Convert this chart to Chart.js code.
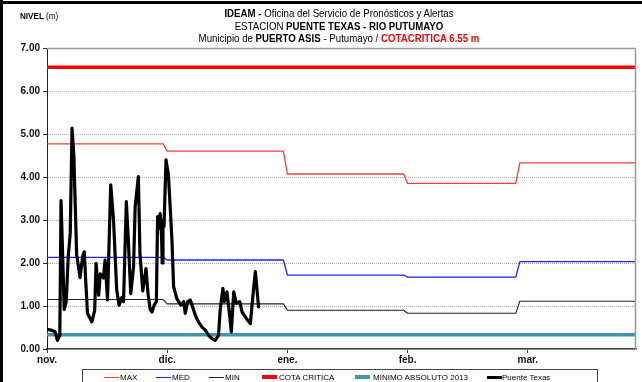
<!DOCTYPE html>
<html>
<head>
<meta charset="utf-8">
<script src="https://cdn.jsdelivr.net/npm/chart.js@4/dist/chart.umd.min.js"></script>
<style>
  html, body { margin: 0; padding: 0; background: #fff; }
  #wrap { position: relative; width: 642px; height: 382px; overflow: hidden; background: #fff; font-family: "Liberation Sans", Arial, sans-serif; }
  #c { position: absolute; left: 0; top: 0; }
  .bl { position: absolute; left: 0; top: 0; width: 3px; height: 382px; background: #000; }
  .bt { position: absolute; left: 0; top: 1px; width: 642px; height: 3px; background: #000; }
  #title { position: absolute; left: 139px; width: 400px; top: 7px; text-align: center; font-family: "Liberation Sans", Arial, sans-serif; font-size: 11px; line-height: 12.5px; color: #000; transform: scaleX(0.88); transform-origin: 200px 0; }
  #title b { font-weight: bold; }
  #title .red { color: #ff0000; font-weight: bold; }
  #ylab { position: absolute; left: 20px; top: 11px; font-family: "Liberation Sans", Arial, sans-serif; font-size: 9px; color: #000; transform: scaleX(0.9); transform-origin: 0 0; }
  #legend { position: absolute; left: 82px; top: 369px; width: 516px; height: 30px; border: 1px solid #444; box-sizing: border-box; }
  .li { position: absolute; top: 3px; font-size: 8px; line-height: 9px; color: #000; white-space: nowrap; }
  .sw { position: absolute; top: 7px; width: 15px; }
</style>
</head>
<body>
<div id="wrap">
  <canvas id="c" width="642" height="382"></canvas>
  <div class="bl"></div>
  <div class="bt"></div>
  <div id="ylab"><b>NIVEL</b> (m)</div>
  <div id="title">
    <div><b>IDEAM -</b> Oficina del Servicio de Pronósticos y Alertas</div>
    <div>ESTACION <b>PUENTE TEXAS - RIO PUTUMAYO</b></div>
    <div>Municipio de <b>PUERTO ASIS</b> - Putumayo / <span class="red">COTACRITICA 6.55 m</span></div>
  </div>
  <div id="legend"></div>
</div>
<script>
// ---- data ----
const monthTicks = [0, 30, 60, 90, 120];
const monthLabels = ["nov.", "dic.", "ene.", "feb.", "mar."];
const yTicks = [0, 1, 2, 3, 4, 5, 6, 7];

const stepDays  = [0, 29, 30, 59, 60, 89, 90, 117, 118, 147];
const maxLevels = [4.77, 4.77, 4.60, 4.60, 4.07, 4.07, 3.85, 3.85, 4.33, 4.33];
const medLevels = [2.13, 2.13, 2.07, 2.07, 1.72, 1.72, 1.67, 1.67, 2.03, 2.03];
const minLevels = [1.15, 1.15, 1.05, 1.05, 0.90, 0.90, 0.83, 0.83, 1.11, 1.11];

const refDays = [0, 147];
const cotaCritica = [6.55, 6.55];
const minimoAbsoluto2013 = [0.33, 0.33];

const puenteDays = [0.0,1.0,2.0,2.6,3.2,3.5,3.9,4.3,4.8,5.3,5.8,6.25,6.7,7.0,7.4,8.25,8.9,9.3,9.6,10.1,11.2,11.9,12.25,12.9,13.3,14.1,14.5,15.1,15.9,16.6,17.4,18.0,18.7,19.1,19.8,20.3,20.9,21.6,22.0,22.8,23.2,23.9,24.7,25.2,25.75,26.2,26.75,27.3,27.6,27.9,28.25,28.6,28.75,28.95,29.2,29.7,30.3,30.8,31.2,31.6,32.4,33.4,34.1,34.5,35.1,35.75,36.2,37.0,37.8,38.7,39.5,40.3,41.2,42.0,42.8,43.25,43.9,44.3,44.9,45.5,46.0,46.6,47.25,48.1,48.7,49.75,50.75,51.4,52.0,52.8];
const puenteLevels = [0.46,0.44,0.40,0.20,0.32,3.45,2.20,0.92,1.10,2.15,2.70,5.14,4.50,3.50,2.20,1.66,2.15,2.26,1.70,0.83,0.63,0.90,1.99,1.25,1.75,1.65,2.07,1.14,3.82,3.00,1.37,1.02,1.20,1.10,3.43,2.53,1.29,1.90,3.31,4.01,2.22,1.35,1.87,1.30,0.92,0.86,1.02,1.10,3.08,2.80,3.15,2.60,2.00,3.00,2.85,4.40,4.05,3.20,2.50,1.45,1.17,1.02,1.10,0.83,1.10,1.14,1.02,0.79,0.63,0.51,0.44,0.32,0.24,0.20,0.32,0.94,1.41,1.10,1.33,0.86,0.40,1.33,1.06,1.10,0.86,0.71,0.59,1.25,1.80,0.98];

// ---- build ----
const pts = (xs, ys) => xs.map((x, i) => ({ x: x, y: ys[i] }));

const series = [
  { label: "MAX", data: pts(stepDays, maxLevels), color: "#ff3b3b", width: 1.3, order: 5 },
  { label: "MED", data: pts(stepDays, medLevels), color: "#2020ff", width: 1.3, order: 4 },
  { label: "MIN", data: pts(stepDays, minLevels), color: "#222222", width: 1.1, order: 3 },
  { label: "COTA CRITICA", data: pts(refDays, cotaCritica), color: "#ff0000", width: 3.5, order: 2 },
  { label: "MINIMO ABSOLUTO 2013", data: pts(refDays, minimoAbsoluto2013), color: "#4393ad", width: 3.5, order: 1 },
  { label: "Puente Texas", data: pts(puenteDays, puenteLevels), color: "#000000", width: 3.2, order: 0 }
];

const framePlugin = {
  id: "frame",
  afterDatasetsDraw(chart) {
    const a = chart.chartArea, ctx = chart.ctx;
    ctx.save();
    ctx.strokeStyle = "#9a9a9a";
    ctx.lineWidth = 1.5;
    ctx.beginPath();
    ctx.moveTo(a.left, a.top + 0.5);
    ctx.lineTo(a.right - 0.5, a.top + 0.5);
    ctx.lineTo(a.right - 0.5, a.bottom);
    ctx.stroke();
    ctx.restore();
  }
};

new Chart(document.getElementById("c"), {
  type: "line",
  data: {
    datasets: series.map(s => ({
      label: s.label,
      data: s.data,
      borderColor: s.color,
      backgroundColor: s.color,
      borderWidth: s.width,
      pointRadius: 0,
      tension: 0,
      fill: false,
      order: s.order,
      borderJoinStyle: "round",
      borderCapStyle: "round"
    }))
  },
  options: {
    responsive: false,
    animation: false,
    layout: { padding: { left: 0, right: 6, top: 48, bottom: 0 } },
    plugins: { legend: { display: false }, tooltip: { enabled: false }, title: { display: false } },
    scales: {
      x: {
        type: "linear",
        min: 0,
        max: 147,
        afterBuildTicks: s => { s.ticks = monthTicks.map(v => ({ value: v })); },
        afterFit: s => { s.height = 33; },
        ticks: {
          autoSkip: false,
          maxRotation: 0,
          padding: 1,
          color: "#111",
          font: { family: "Liberation Sans, Arial, sans-serif", size: 10, weight: "bold" },
          callback: v => monthLabels[monthTicks.indexOf(v)] || ""
        },
        grid: { drawOnChartArea: false, drawTicks: true, tickLength: 4, tickColor: "#444", tickWidth: 1 },
        border: { display: true, color: "#444", width: 1.5 }
      },
      y: {
        type: "linear",
        min: 0,
        max: 7,
        afterBuildTicks: s => { s.ticks = yTicks.map(v => ({ value: v })); },
        afterFit: s => { s.width = 47; },
        ticks: {
          padding: 3,
          color: "#111",
          font: { family: "Liberation Sans, Arial, sans-serif", size: 10, weight: "bold" },
          callback: v => Number(v).toFixed(2)
        },
        grid: { color: "#b0b0b0", lineWidth: 1, drawTicks: true, tickLength: 4, tickColor: "#333", tickBorderDash: [] },
        border: { display: true, color: "#222", width: 1, dash: [1, 1] }
      }
    }
  },
  plugins: [framePlugin]
});

// ---- HTML legend ----
const legendPos = [[21, 37], [73, 89], [126, 142], [179, 196], [272, 290], [404, 419]];
const lg = document.getElementById("legend");
series.forEach((s, i) => {
  const sw = document.createElement("div");
  sw.className = "sw";
  sw.style.left = legendPos[i][0] + "px";
  sw.style.height = Math.max(1, Math.round(s.width)) + "px";
  sw.style.marginTop = (-Math.round(s.width) / 2) + "px";
  sw.style.background = s.color;
  lg.appendChild(sw);
  const t = document.createElement("div");
  t.className = "li";
  t.style.left = legendPos[i][1] + "px";
  t.textContent = s.label;
  lg.appendChild(t);
});
</script>
</body>
</html>
